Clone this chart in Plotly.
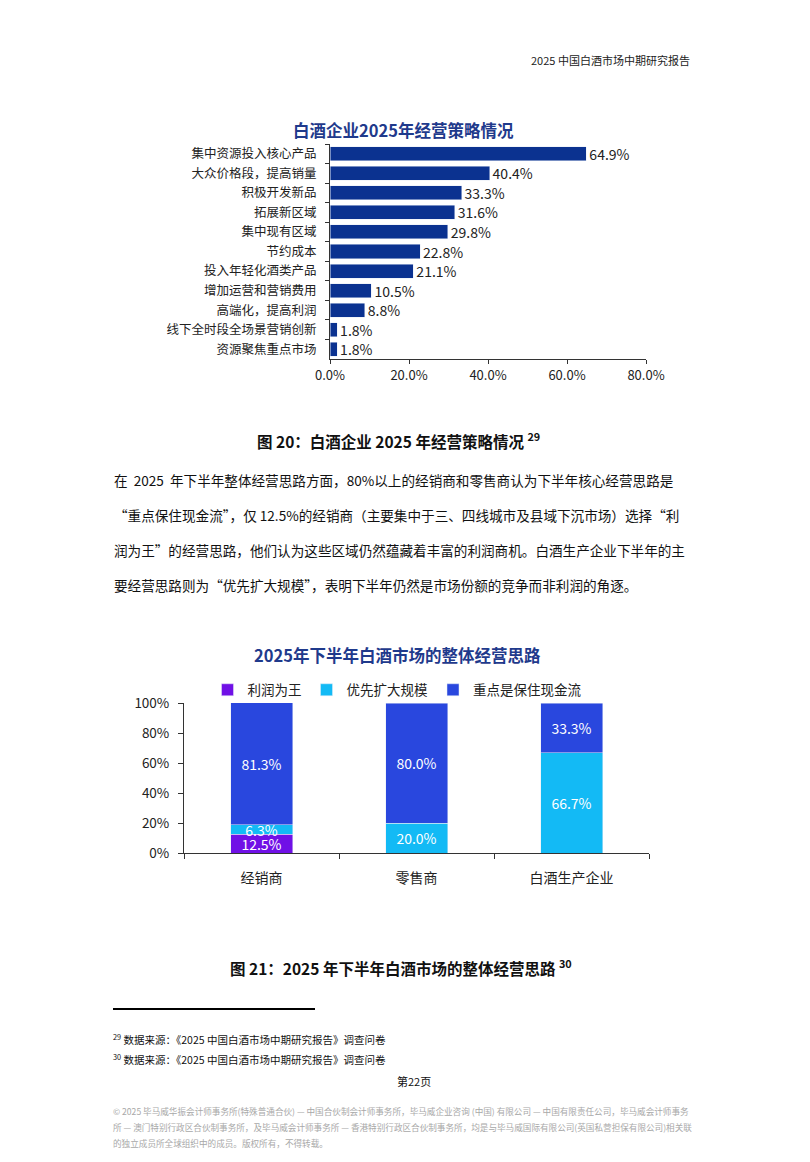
import plotly.graph_objects as go

W, H = 810, 1162
FONT = "Noto Sans CJK SC"
PAGE_OFFSET = 8  # the browser puts the figure 8px in from the top-left corner

# chart 1: strategy shares
strategies = ["集中资源投入核心产品", "大众价格段，提高销量", "积极开发新品", "拓展新区域",
              "集中现有区域", "节约成本", "投入年轻化酒类产品", "增加运营和营销费用",
              "高端化，提高利润", "线下全时段全场景营销创新", "资源聚焦重点市场"]
strategy_pct = [64.9, 40.4, 33.3, 31.6, 29.8, 22.8, 21.1, 10.5, 8.8, 1.8, 1.8]
x_ticks = [0, 20, 40, 60, 80]

# chart 2: H2 operating approach
groups = ["经销商", "零售商", "白酒生产企业"]
profit_first = [12.5, 0, 0]
scale_first = [6.3, 20.0, 66.7]
cash_first = [81.3, 80.0, 33.3]
y_ticks = [0, 20, 40, 60, 80, 100]

paragraph = [
    "在  2025  年下半年整体经营思路方面，80%以上的经销商和零售商认为下半年核心经营思路是",
    "“重点保住现金流”，仅 12.5%的经销商（主要集中于三、四线城市及县域下沉市场）选择“利",
    "润为王”的经营思路，他们认为这些区域仍然蕴藏着丰富的利润商机。白酒生产企业下半年的主",
    "要经营思路则为“优先扩大规模”，表明下半年仍然是市场份额的竞争而非利润的角逐。",
]
footer = [
    "© 2025 毕马威华振会计师事务所(特殊普通合伙) — 中国合伙制会计师事务所，毕马威企业咨询 (中国) 有限公司 — 中国有限责任公司，毕马威会计师事务",
    "所 — 澳门特别行政区合伙制事务所，及毕马威会计师事务所 — 香港特别行政区合伙制事务所，均是与毕马威国际有限公司(英国私营担保有限公司)相关联",
    "的独立成员所全球组织中的成员。版权所有，不得转载。",
]


# page pixel -> paper fraction
def px(x):
    return (x - PAGE_OFFSET) / W


def py(y):
    return 1 - (y - PAGE_OFFSET) / H


def label(v):
    return f"{v:.1f}%" if v > 0 else ""


fig = go.Figure()

fig.add_trace(go.Bar(
    x=strategy_pct, y=strategies, orientation="h", width=0.72,
    marker_color="#0B3290", text=[f"{v:.1f}%" for v in strategy_pct],
    textposition="outside", cliponaxis=False,
    textfont=dict(size=13, color="#222222"), showlegend=False,
    xaxis="x", yaxis="y",
))

for name, vals, color in [("利润为王", profit_first, "#7010E6"),
                          ("优先扩大规模", scale_first, "#13BAF5"),
                          ("重点是保住现金流", cash_first, "#2947DE")]:
    fig.add_trace(go.Bar(
        x=groups, y=vals, name=name, width=0.4, marker_color=color,
        text=[label(v) for v in vals], textposition="inside",
        insidetextanchor="middle", textfont=dict(size=14, color="white"),
        xaxis="x2", yaxis="y2",
    ))

fig.update_layout(
    width=W, height=H, margin=dict(l=0, r=0, t=0, b=0, autoexpand=False),
    paper_bgcolor="white", plot_bgcolor="white",
    font=dict(family=FONT, color="#222222"),
    barmode="stack",
    uniformtext=dict(minsize=14, mode="show"),
    xaxis=dict(domain=[px(330), px(646)], range=[0, 80], tickvals=x_ticks,
               ticktext=[f"{v:.1f}%" for v in x_ticks], showline=True, linecolor="#333",
               ticks="outside", ticklen=4, tickcolor="#333", showgrid=False,
               zeroline=False, tickfont=dict(size=13), anchor="y", automargin=False),
    yaxis=dict(domain=[py(359), py(144)], autorange="reversed", showline=True,
               linecolor="#333", ticks="outside", ticklen=4, tickcolor="#333",
               tickson="boundaries", showgrid=False, tickfont=dict(size=12.5),
               ticklabelstandoff=10, anchor="x", automargin=False),
    xaxis2=dict(domain=[px(184), px(649)], showline=True, linecolor="#333",
                ticks="outside", ticklen=5, tickcolor="#333", tickson="boundaries",
                showgrid=False, tickfont=dict(size=14), ticklabelstandoff=12,
                anchor="y2", automargin=False),
    yaxis2=dict(domain=[py(853), py(703)], range=[0, 100], tickvals=y_ticks,
                ticktext=[f"{v}%" for v in y_ticks], showline=True, linecolor="#333",
                ticks="outside", ticklen=5, tickcolor="#333", showgrid=False,
                zeroline=False, tickfont=dict(size=13.5), ticklabelstandoff=6,
                anchor="x2", automargin=False),
    legend=dict(orientation="h", x=px(397), y=py(690), xanchor="center",
                yanchor="middle", font=dict(size=13.5), itemclick=False,
                traceorder="normal", itemwidth=30, bgcolor="rgba(0,0,0,0)"),
)

annotations = [
    dict(x=px(692), y=py(60), text="2025 中国白酒市场中期研究报告", xanchor="right",
         font=dict(size=11, color="#222")),
    dict(x=px(403), y=py(130), text="<b>白酒企业2025年经营策略情况</b>", xanchor="center",
         font=dict(size=16.5, color="#1F3A8C")),
    dict(x=px(398), y=py(440), text="<b>图 20：白酒企业 2025 年经营策略情况 <sup>29</sup></b>",
         xanchor="center", font=dict(size=15.5, color="#111")),
    dict(x=px(397), y=py(655), text="<b>2025年下半年白酒市场的整体经营思路</b>",
         xanchor="center", font=dict(size=16.5, color="#1F3A8C")),
    dict(x=px(401), y=py(967), text="<b>图 21：2025 年下半年白酒市场的整体经营思路 <sup>30</sup></b>",
         xanchor="center", font=dict(size=15.5, color="#111")),
    dict(x=px(111), y=py(1039), text="<sup>29</sup> 数据来源：《2025 中国白酒市场中期研究报告》调查问卷",
         xanchor="left", font=dict(size=10.5, color="#111")),
    dict(x=px(111), y=py(1059), text="<sup>30</sup> 数据来源：《2025 中国白酒市场中期研究报告》调查问卷",
         xanchor="left", font=dict(size=10.5, color="#111")),
    dict(x=px(414), y=py(1081), text="第22页", xanchor="center",
         font=dict(size=11, color="#111")),
]
for i, line in enumerate(paragraph):
    annotations.append(dict(x=px(112), y=py(480 + i * 35), text=line, xanchor="left",
                            font=dict(size=13.6, color="#111")))
for i, line in enumerate(footer):
    annotations.append(dict(x=px(111), y=py(1111 + i * 16), text=line, xanchor="left",
                            font=dict(size=8.6, color="#A8A8A8")))
for a in annotations:
    a.update(xref="paper", yref="paper", showarrow=False, yanchor="middle")
fig.update_layout(annotations=annotations)

fig.add_shape(type="line", xref="paper", yref="paper", x0=px(113), x1=px(315),
              y0=py(1009), y1=py(1009), line=dict(color="black", width=2))

fig.write_html("out.html")
